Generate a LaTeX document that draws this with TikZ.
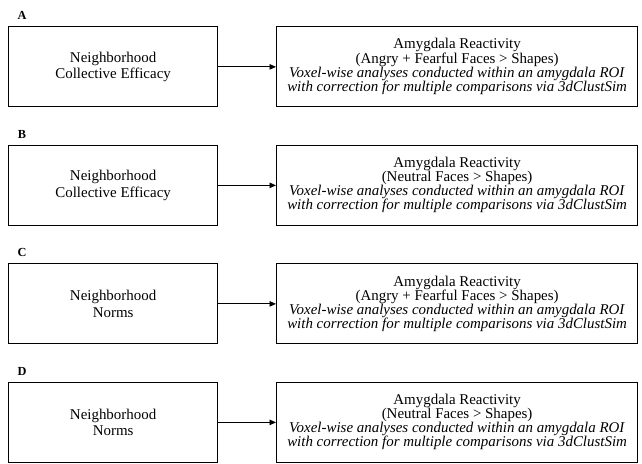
\documentclass[tikz,border=0pt]{standalone}
\usepackage{fontspec}
\setmainfont{Liberation Serif}
\usetikzlibrary{arrows.meta}

\begin{document}
\begin{tikzpicture}[>={Triangle[length=2.6mm,width=2.2mm]}]

\useasboundingbox (0,0) rectangle (25.68,18.56);

\newcommand*{\panel}[4]{
\draw (0.32,0) node [predictor] (#1-x) {#3};

\draw (11.04,0) node [outcome] (#1-y)
  {Amygdala Reactivity\\#4\\
   \textit{Voxel-wise analyses conducted within an amygdala ROI}\\
   \textit{with correction for multiple comparisons via 3dClustSim}};

\draw (0.88,3.68) node [letter] (#1-l) {#2};

\draw [->] (#1-x.east) -- (#1-y.west);
}

\tikzstyle {predictor}=[draw,shape=rectangle,line width=1.4pt,
     minimum width=8.36cm,minimum height=3.2cm,inner sep=0pt,
     anchor=south west,align=center,
     font=\fontsize{17}{18.8}\selectfont];

\tikzstyle {outcome}=[predictor,minimum width=14.44cm,
     font=\fontsize{17}{15.6}\selectfont];

\tikzstyle {letter}=[font=\fontsize{14}{16}\selectfont\bfseries];

\tikzset{every path/.style={line width=1.1pt}}

\begin{scope}[yshift=14.26cm]
\panel{pa}{A}{Neighborhood\\Collective Efficacy}{(Angry + Fearful Faces > Shapes)}
\end{scope}

\begin{scope}[yshift=9.52cm]
\panel{pb}{B}{Neighborhood\\Collective Efficacy}{(Neutral Faces > Shapes)}
\end{scope}

\begin{scope}[yshift=4.78cm]
\panel{pc}{C}{Neighborhood\\Norms}{(Angry + Fearful Faces > Shapes)}
\end{scope}

\begin{scope}[yshift=0.04cm]
\panel{pd}{D}{Neighborhood\\Norms}{(Neutral Faces > Shapes)}
\end{scope}
\end{tikzpicture}
\end{document}
